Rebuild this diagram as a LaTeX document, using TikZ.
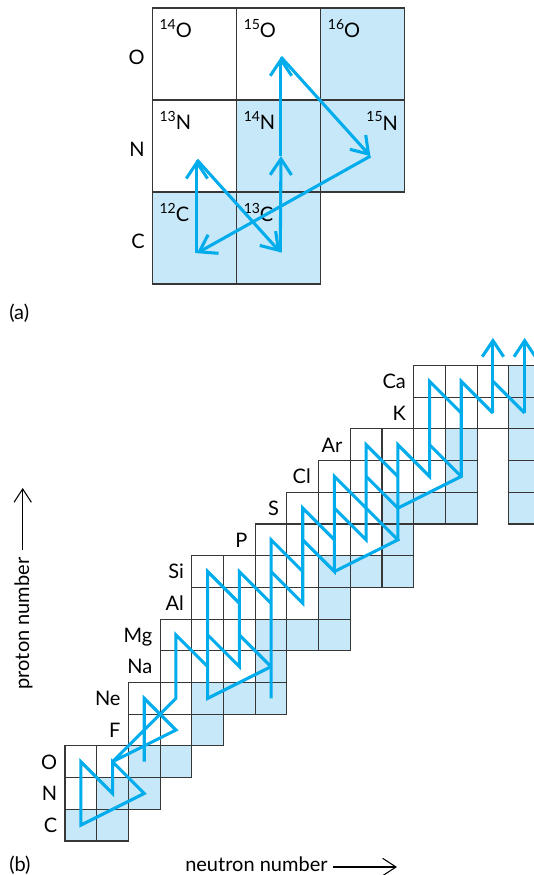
\documentclass[tikz,border=0pt]{standalone}
\usepackage{fontspec}
\setmainfont{Lato}
\usetikzlibrary{arrows.meta}
\definecolor{flowblue}{RGB}{0,172,236}
\definecolor{stablefill}{RGB}{198,232,248}
\definecolor{gridline}{RGB}{55,55,55}
\newcommand{\iso}[2]{\raisebox{6.3pt}{\fontsize{10.5}{12}\selectfont #1}#2}

\tikzset{
  cell/.style={draw=gridline, line width=0.8pt},
  stable/.style={fill=stablefill},
  flow/.style={draw=flowblue, line width=2.3pt, miter limit=3},
  flowarrow/.style={flow, -{Straight Barb[length=12pt,width=16pt]}},
  axis/.style={line width=0.8pt, -{Straight Barb[length=10pt,width=13pt]}},
  elem/.style={anchor=base east, inner sep=0pt},
  isolbl/.style={anchor=base west, inner sep=0pt},
  lbl/.style={font=\fontsize{15}{18}\selectfont}
}

\begin{document}
\begin{tikzpicture}[x=0.75pt, y=0.75pt, every node/.style={lbl}]
\useasboundingbox (0,0) rectangle (534,875);
\clip (0,0) rectangle (534,875);

% (a) the CNO cycle
\begin{scope}[shift={(152.3,591)}, x=63.15pt, y=69pt]
  \foreach \c/\r in {2/2, 1/1, 2/1, 0/0, 1/0}
    \fill[stable] (\c,\r) rectangle ++(1,1);
  \foreach \c/\r in {0/2, 1/2, 2/2, 0/1, 1/1, 2/1, 0/0, 1/0}
    \draw[cell] (\c,\r) rectangle ++(1,1);
  \foreach \e/\r in {C/0, N/1, O/2}
    \node[elem] (a-\e) at (-0.087,\r+0.39) {\e};
  \foreach \m/\e/\c/\r in {14/O/0/2, 15/O/1/2, 16/O/2/2, 13/N/0/1, 14/N/1/1, 12/C/0/0, 13/C/1/0}
    \node[isolbl] (a-\m\e) at (\c+0.083,\r+0.68) {\iso{\m}{\e}};
  \node[anchor=base east, inner sep=0pt] (a-15N) at (2.92,1.67) {\iso{15}{N}};

  \coordinate (C12) at (0.53,0.335);
  \coordinate (N13) at (0.53,1.35);
  \coordinate (C13) at (1.52,0.345);
  \coordinate (N14) at (1.528,1.39);
  \coordinate (O15) at (1.528,2.467);
  \coordinate (N15) at (2.59,1.39);
  \draw[flowarrow] (C12) -- (N13);
  \draw[flowarrow] (N13) -- (C13);
  \draw[flowarrow] (C13) -- (N14);
  \draw[flowarrow] (N14) -- (O15);
  \draw[flowarrow] (O15) -- (N15);
  \draw[flowarrow] (N15) -- (C12);
\end{scope}
\node[anchor=base west, inner sep=0pt] (lbl-a) at (9,555) {(a)};

% (b) the chart up to calcium
\begin{scope}[shift={(65,34)}, x=23.775pt, y=23.775pt]
  \foreach \c/\r in {0/0,1/0, 1/1,2/1, 2/2,3/2, 4/3, 4/4,5/4,6/4, 6/5, 6/6,7/6,8/6,
      8/7, 8/8,9/8,10/8, 10/9, 10/10,11/10,12/10, 12/11, 12/12,
      14/10,14/11,14/12,14/13,14/14}
    \fill[stable] (\c,\r) rectangle ++(1,1);
  \foreach \r/\a/\b in {0/0/1, 1/0/2, 2/0/3, 3/2/4, 4/2/6, 5/3/6, 6/3/8, 7/4/8,
      8/4/10, 9/6/10, 10/7/12, 11/8/12, 12/9/12, 13/11/14, 14/11/14}
    \foreach \c in {\a,...,\b}
      \draw[cell] (\c,\r) rectangle ++(1,1);
  \foreach \r in {10,11,12}
    \draw[cell] (14,\r) rectangle ++(1,1);
  \foreach \e/\r/\a in {C/0/0, N/1/0, O/2/0, F/3/2, Ne/4/2, Na/5/3, Mg/6/3, Al/7/4,
      Si/8/4, P/9/6, S/10/7, Cl/11/8, Ar/12/9, K/13/11, Ca/14/11}
    \node[elem] (b-\e) at (\a-0.24,\r+0.27) {\e};

  % CNO and hot CNO
  \draw[flow] (0.5,0.5) -- (0.5,2.5) -- (1.5,1.5) -- (1.5,2.5) -- (2.5,1.5) -- cycle;
  \draw[flow] (2.5,2.5) -- (2.5,4.5) -- (3.5,3.5) -- (1.5,2.5) -- (3.5,4.5) -- (3.5,6.5) -- (4.5,5.5);
  % NeNa and beyond
  \draw[flow] (6.5,5.5) -- (4.5,4.5) -- (4.5,8.5) -- (5.5,7.5);
  \draw[flow] (4.5,6.5) -- (5.5,5.5) -- (5.5,8.5) -- (6.5,7.5);
  \draw[flow] (5.5,6.5) -- (6.5,5.5);
  \draw[flow] (6.5,4.5) -- (6.5,9.5) -- (7.5,8.5);
  \draw[flow] (6.5,8.5) -- (7.5,7.5) -- (7.5,10.5) -- (8.5,9.5);
  \draw[flow] (7.5,9.5) -- (8.5,8.5) -- (8.5,11.5) -- (9.5,10.5);
  \draw[flow] (8.5,10.5) -- (9.5,9.5) -- (9.5,12.5) -- (10.5,11.5);
  \draw[flow] (9.5,11.5) -- (10.5,10.5);
  \draw[flow] (9.5,10.5) -- (10.5,9.5) -- (8.5,8.5);
  \draw[flow] (10.5,9.5) -- (10.5,12.5) -- (11.5,11.5) -- (11.5,14.5) -- (12.5,13.5);
  \draw[flow] (10.5,10.5) -- (12.5,11.5) -- (12.5,14.5) -- (13.5,13.5);
  \draw[flow] (11.5,12.5) -- (12.5,11.5);
  \draw[flow] (13.5,14.5) -- (14.5,13.5);
  \draw[flowarrow] (13.5,13.5) -- (13.5,15.87);
  \draw[flowarrow] (14.5,13.5) -- (14.5,15.87);
\end{scope}

\node[rotate=90] (lbl-z) at (23.5,251.5) {proton number};
\draw[axis] (22.7,325) -- (22.7,387);
\node[anchor=base west, inner sep=0pt] (lbl-n) at (185,3) {neutron number};
\draw[axis] (333,8) -- (397,8);
\node[anchor=base west, inner sep=0pt] (lbl-b) at (9,3) {(b)};
\end{tikzpicture}
\end{document}
